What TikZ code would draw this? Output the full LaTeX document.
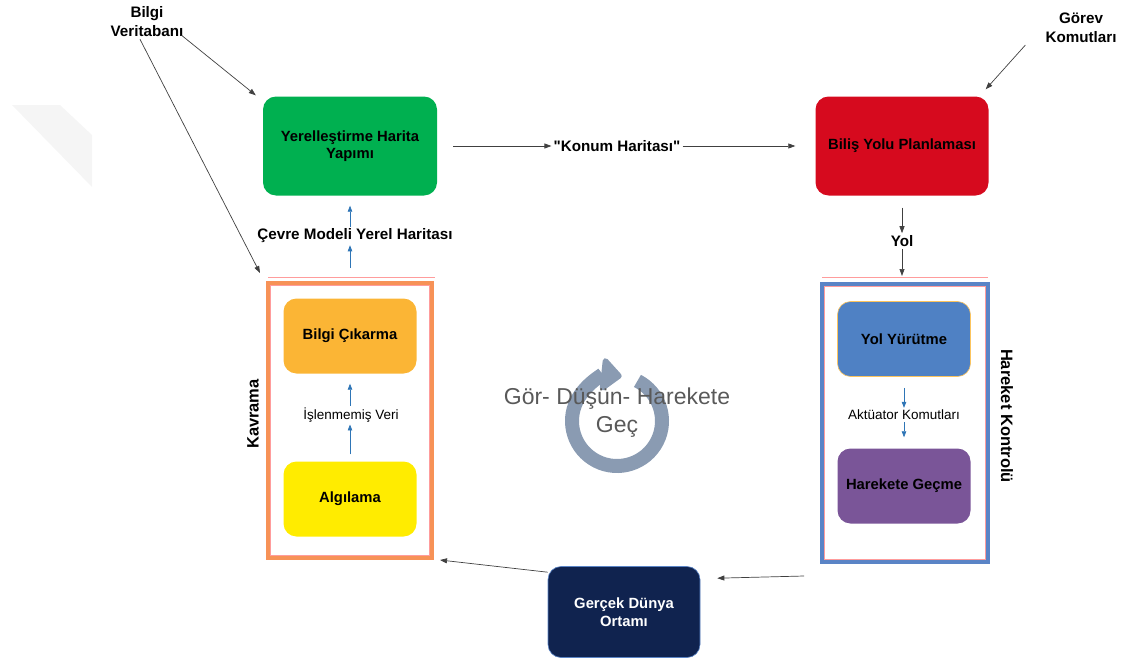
\documentclass[tikz,border=0pt]{standalone}
\usepackage{fontspec}
\setmainfont{Liberation Sans}
\setmonofont{Liberation Sans}
\usetikzlibrary{arrows.meta,positioning}

\definecolor{yesil}{HTML}{00B050}
\definecolor{kirmizi}{HTML}{D60A1E}
\definecolor{turuncu}{HTML}{FBB535}
\definecolor{sari}{HTML}{FFEC00}
\definecolor{mavikutu}{HTML}{4F81C4}
\definecolor{mor}{HTML}{7A5598}
\definecolor{lacivert}{HTML}{10234F}
\definecolor{cerceveturuncu}{HTML}{F79257}
\definecolor{cercevemavi}{HTML}{5A84C6}
\definecolor{pembe}{HTML}{FF9C9C}
\definecolor{okmavi}{HTML}{2E75B6}
\definecolor{okgri}{HTML}{404040}
\definecolor{dongu}{HTML}{8A9BB2}
\definecolor{dongumetin}{HTML}{595959}

\newcommand{\duztirnak}{{\ttfamily"}}

\begin{document}
\begin{tikzpicture}[x=1pt,y=-1pt,
  kutu/.style={rounded corners=13pt, minimum width=133pt, minimum height=75pt,
    align=center, inner sep=2pt, font=\fontsize{14.8}{17.5}\selectfont\bfseries},
  buyukkutu/.style={kutu, minimum width=174pt, minimum height=99pt},
  etiket/.style={align=center, inner sep=2pt, font=\fontsize{15.2}{19}\selectfont\bfseries},
  kucuketiket/.style={align=center, inner sep=2pt, font=\fontsize{13.5}{16}\selectfont},
  griok/.style={draw=okgri, line width=0.7pt, -{Triangle[width=5pt,length=7pt]}},
  maviok/.style={draw=okmavi, line width=0.7pt, -{Triangle[width=4.5pt,length=6pt]}}]

\useasboundingbox (0,0) rectangle (1126,661);

% soluk arka plan izi
\fill[black!4] (12,105) -- (60,105) -- (92,135) -- (92,187) -- cycle;

% ust kutular
\node[buyukkutu, fill=yesil] (yerel) at (350,146) {Yerelleştirme Harita\\Yapımı};
\node[buyukkutu, fill=kirmizi, minimum width=173pt] (bilis) at (902,146) {Biliş Yolu Planlaması};
\node[etiket] (konum) at (617,146) {\duztirnak Konum Haritası\duztirnak};

\node[etiket] (bilgi) at (147,22) {Bilgi\\Veritabanı};
\node[etiket] (gorev) at (1081,28) {Görev\\Komutları};

% cerceveler
\node[draw=cerceveturuncu, line width=4pt, minimum width=164pt, minimum height=275pt] (kavrama) at (350,420.5) {};
\draw[pembe, line width=0.5pt] (270.5,285.5) rectangle (429.5,555.5);
\node[draw=cercevemavi, line width=4pt, minimum width=166pt, minimum height=278pt] (hareket) at (905,423) {};
\draw[pembe, line width=0.5pt] (824.5,286.5) rectangle (985.5,559.5);
\draw[pembe, line width=1pt] (268,277) -- (435,277);
\draw[pembe, line width=1pt] (822,277) -- (988,277);

\node[etiket, font=\fontsize{16.5}{19}\selectfont\bfseries, rotate=90] at (253,414) {Kavrama};
\node[etiket, font=\fontsize{16.5}{19}\selectfont\bfseries, rotate=-90] at (1007,416) {Hareket Kontrolü};

% ic kutular
\node[kutu, fill=turuncu] (cikarma) at (350,336) {Bilgi Çıkarma};
\node[kutu, fill=sari] (algilama) at (350,499) {Algılama};
\node[kutu, fill=mavikutu, draw=turuncu!80, line width=0.6pt] (yurutme) at (904,339) {Yol Yürütme};
\node[kutu, fill=mor] (gecme) at (904,486) {Harekete Geçme};
\node[kutu, fill=lacivert, draw=cercevemavi, line width=0.6pt, text=white,
  minimum width=152pt, minimum height=91pt] (gercek) at (624,612) {Gerçek Dünya\\Ortamı};

\node[kucuketiket] (islenmemis) at (351,415) {İşlenmemiş Veri};
\node[kucuketiket] (aktuator) at (904,415) {Aktüator Komutları};
\node[etiket] (cevre) at (355,236) {Çevre Modeli Yerel Haritası};
\node[etiket] (yol) at (902,241) {Yol};

% baglantilar
\draw[griok] ([xshift=16pt]yerel.east) -- (konum.west);
\draw[griok] (konum.east) -- ([xshift=-20pt]bilis.west);
\draw[griok] ([shift={(-4,-4)}]bilgi.south east) -- ([shift={(-7,-1)}]yerel.north west);
\draw[griok] ([xshift=-7pt]bilgi.south) -- ([shift={(-6,-8)}]kavrama.north west);
\draw[griok] ([xshift=-18pt]gorev.south west) -- ([shift={(-3,-7)}]bilis.north east);
\draw[griok] ([yshift=-12pt]bilis.south) -- (yol.north);
\draw[griok] (yol.south) -- ([yshift=6pt]yol.south |- hareket.north);
\draw[griok] ([yshift=-6pt]gercek.north west) -- ([xshift=6pt]kavrama.south east);
\draw[griok] ([shift={(-16,12)}]hareket.south west) -- ([shift={(17,12)}]gercek.north east);

\draw[maviok] ([yshift=13pt]kavrama.north) -- (kavrama.north |- cevre.south);
\draw[maviok] (kavrama.north |- cevre.north) -- ([yshift=-10pt]yerel.south);
\draw[maviok] (algilama.north) ++(0,-7) -- (algilama.north |- islenmemis.south);
\draw[maviok] (algilama.north |- islenmemis.north) -- ([yshift=-10pt]cikarma.south);
\draw[maviok] ([yshift=-11pt]yurutme.south) -- (aktuator.north);
\draw[maviok] (aktuator.south) -- ([yshift=11pt]gecme.north);

% dongu isareti
\draw[dongu, line width=14pt, -{Triangle[width=38pt,length=22pt,round]}]
  (617,421) ++(63:45pt) arc[start angle=63, end angle=-276, radius=45pt];
\node[align=center, text=dongumetin, font=\fontsize{23}{28}\selectfont] at (617,413) {Gör- Düşün- Harekete\\Geç};
\end{tikzpicture}
\end{document}
